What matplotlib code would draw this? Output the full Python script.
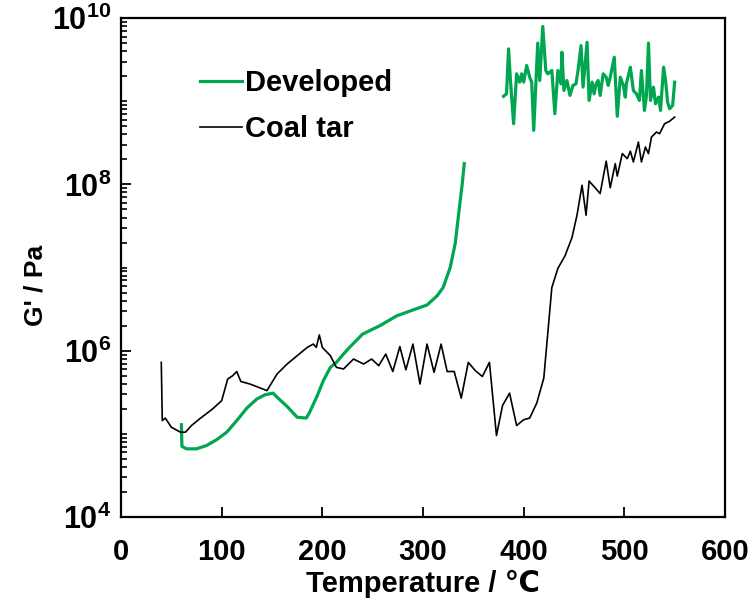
import numpy as np
import matplotlib
matplotlib.use("Agg")
import matplotlib.pyplot as plt
from matplotlib.ticker import FixedLocator, FuncFormatter, NullFormatter

plt.rcParams['font.family'] = ['Liberation Sans', 'DejaVu Sans']
plt.rcParams['font.weight'] = 'bold'
plt.rcParams['mathtext.fontset'] = 'custom'
plt.rcParams['mathtext.rm'] = 'Liberation Sans'
plt.rcParams['mathtext.bf'] = 'Liberation Sans:bold'

# coal tar, temperature (C) and log10 G' (Pa)
coal_T = [40, 41, 44, 50, 59, 64, 70, 78, 91, 100, 106, 111, 115, 119, 128, 145,
          155, 165, 175, 185, 191, 194, 197, 200, 208, 214, 221, 231, 241, 249,
          256, 263, 270, 277, 283, 290, 297, 304, 311, 318, 324, 331, 338, 345,
          352, 359, 366, 373, 379, 386, 393, 400, 406, 413, 420, 428, 434, 441,
          448, 453, 458, 462, 465, 471, 476, 482, 486, 491, 493, 498, 503, 506,
          509, 514, 517, 521, 524, 527, 532, 535, 540, 545, 550]
coal_logG = [5.86, 5.16, 5.19, 5.08, 5.02, 5.02, 5.10, 5.18, 5.30, 5.40, 5.66,
             5.70, 5.75, 5.63, 5.60, 5.52, 5.72, 5.84, 5.94, 6.04, 6.08, 6.04,
             6.19, 6.04, 5.94, 5.80, 5.78, 5.90, 5.84, 5.90, 5.82, 5.96, 5.75,
             6.05, 5.77, 6.08, 5.60, 6.08, 5.74, 6.08, 5.75, 5.75, 5.43, 5.86,
             5.76, 5.69, 5.86, 4.98, 5.34, 5.49, 5.10, 5.17, 5.19, 5.37, 5.67,
             6.76, 6.99, 7.14, 7.36, 7.63, 7.99, 7.63, 8.04, 7.96, 7.89, 8.28,
             7.96, 8.25, 8.10, 8.37, 8.31, 8.40, 8.27, 8.51, 8.27, 8.45, 8.37,
             8.57, 8.63, 8.61, 8.73, 8.76, 8.81]

# developed binder, first part (up to the steep rise)
dev_T = [60, 60.5, 65, 75, 85, 95, 105, 115, 125, 135, 143, 151, 156, 165, 175,
         184, 187, 195, 201, 208, 214, 221, 227, 240, 257, 274, 290, 304, 314,
         320, 327, 332, 335, 339, 341]
dev_logG = [5.11, 4.85, 4.82, 4.82, 4.86, 4.93, 5.02, 5.16, 5.31, 5.42, 5.47,
            5.49, 5.43, 5.33, 5.20, 5.19, 5.25, 5.46, 5.64, 5.80, 5.86, 5.96,
            6.04, 6.20, 6.30, 6.42, 6.49, 6.55, 6.66, 6.76, 7.00, 7.29, 7.60,
            8.01, 8.25]

# developed binder, noisy part at the top
dev2_T = [380, 383, 385, 387, 390, 393, 396, 398, 400, 403, 406, 408, 410, 414,
          416, 419, 422, 424, 428, 431, 434, 437, 438, 440, 443, 446, 449, 452,
          454, 457, 459, 463, 465, 468, 470, 472, 474, 476, 479, 482, 484, 486,
          490, 493, 496, 499, 501, 502, 506, 509, 512, 515, 517, 520, 522, 524,
          526, 529, 531, 534, 536, 539, 541, 543, 545, 548, 550]
dev2_logG = [9.06, 9.09, 9.63, 9.23, 8.73, 9.33, 9.23, 9.33, 9.23, 9.43, 9.29,
             9.23, 8.65, 9.70, 9.25, 9.90, 9.37, 9.33, 9.37, 8.85, 9.37, 9.21,
             9.59, 9.13, 9.25, 9.07, 9.19, 9.21, 9.37, 9.67, 9.17, 9.71, 9.01,
             9.23, 9.09, 9.21, 9.25, 9.07, 9.33, 9.29, 9.19, 9.29, 9.53, 8.82,
             9.29, 9.19, 9.05, 9.21, 9.41, 9.13, 9.09, 9.01, 9.37, 8.89, 9.07,
             9.70, 9.01, 9.17, 8.97, 9.05, 8.89, 9.41, 9.25, 8.99, 8.91, 8.95,
             9.23]

green = '#00A650'

fig = plt.figure(figsize=(7.54, 6.04), dpi=100)
ax = fig.add_axes([0.1605, 0.144, 0.801, 0.826])

ax.plot(dev_T, 10 ** np.array(dev_logG), color=green, lw=2.3, label='Developed')
ax.plot(dev2_T, 10 ** np.array(dev2_logG), color=green, lw=2.3)
ax.plot(coal_T, 10 ** np.array(coal_logG), color='black', lw=1.2, label='Coal tar')

ax.set_yscale('log')
ax.set_xlim(0, 600)
ax.set_ylim(1e4, 1e10)

ax.set_xticks([0, 100, 200, 300, 400, 500, 600])
ax.yaxis.set_major_locator(FixedLocator([1e4, 1e6, 1e8, 1e10]))
ax.yaxis.set_major_formatter(FuncFormatter(
    lambda v, p: r'$\mathbf{10^{%d}}$' % round(np.log10(v))))
minors = [k * 10.0 ** n for n in range(4, 10) for k in range(1, 10)]
ax.yaxis.set_minor_locator(FixedLocator(minors))
ax.yaxis.set_minor_formatter(NullFormatter())

ax.tick_params(axis='x', which='major', direction='in', length=7, width=1.3,
               labelsize=21, pad=15, top=False)
ax.tick_params(axis='y', which='major', direction='in', length=7, width=1.3,
               labelsize=22, pad=7, right=False)
ax.tick_params(axis='y', which='minor', direction='in', length=4, width=1.2,
               right=False)
for lab in ax.get_xticklabels():
    lab.set_fontweight('bold')
for s in ax.spines.values():
    s.set_linewidth(1.6)

ax.set_xlabel('Temperature / \u2103', fontsize=21, fontweight='bold')
ax.xaxis.set_label_coords(0.5, -0.105)
ax.set_ylabel("G' / Pa", fontsize=19, fontweight='bold')
ax.yaxis.set_label_coords(-0.122, 0.465)

ax.legend(loc='upper left', bbox_to_anchor=(0.087, 0.95), frameon=False,
          handlelength=1.45, handletextpad=0.1, labelspacing=0.6,
          prop={'weight': 'bold', 'size': 21})

fig.savefig('out.png', dpi=100)
